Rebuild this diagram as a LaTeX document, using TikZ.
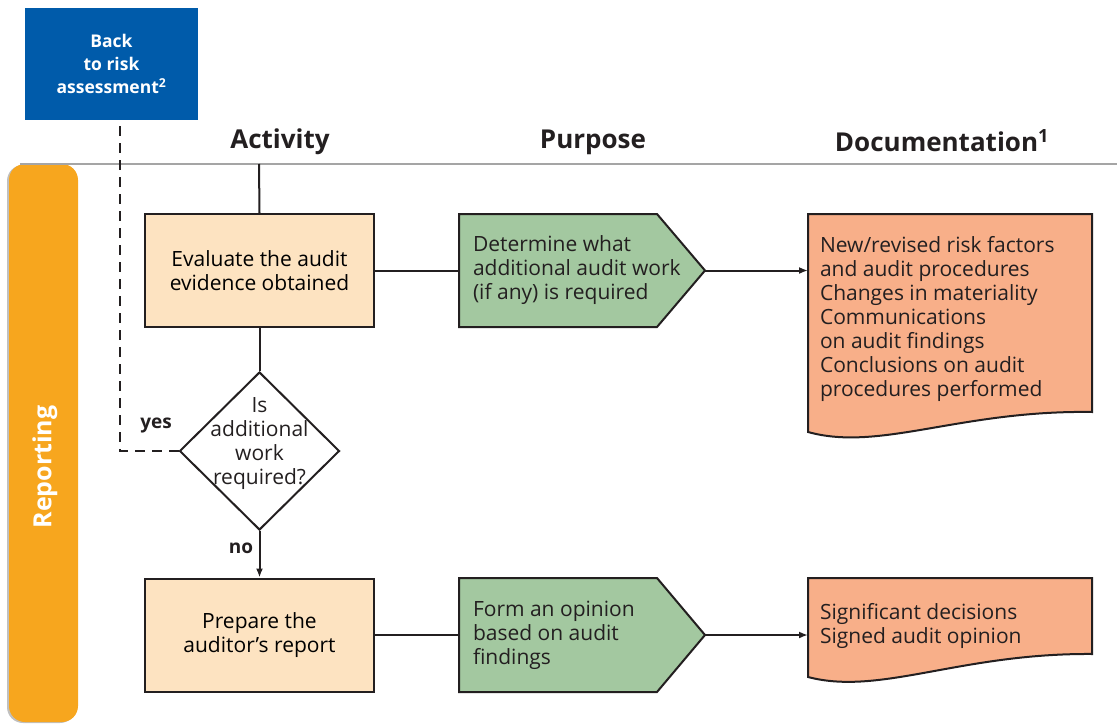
\documentclass[tikz,border=0pt]{standalone}
\usepackage{fontspec}
\setmainfont{Open Sans}
\usetikzlibrary{shapes.geometric,arrows.meta,positioning}
\definecolor{ink}{RGB}{35,31,32}
\definecolor{riskblue}{RGB}{0,91,170}
\definecolor{barorange}{RGB}{247,166,30}
\definecolor{peach}{RGB}{253,227,193}
\definecolor{sage}{RGB}{163,200,160}
\definecolor{salmon}{RGB}{248,175,137}
\definecolor{rulegray}{RGB}{165,165,165}
\newcommand{\bodyfont}{\fontsize{21}{24}\selectfont}
\tikzset{
  actbox/.style={draw=ink, fill=peach, minimum width=229pt, minimum height=113pt, align=center, font=\bodyfont},
  decision/.style={draw=ink, diamond, minimum width=160pt, minimum height=158pt, inner sep=0pt},
  plain/.style={align=left, inner sep=0pt, font=\bodyfont, text=ink},
  heading/.style={font=\bfseries\fontsize{26}{26}\selectfont, text=ink},
  tag/.style={font=\bfseries\fontsize{19}{19}\selectfont, text=ink}
}
\begin{document}
\begin{tikzpicture}[x=1pt, y=-1pt, line width=2pt, draw=ink, >={Latex[length=9pt,width=7pt]}]
    \useasboundingbox (0,0) rectangle (1117,725);

    % lane and headings
    \fill [rulegray!70, rounded corners=16pt] (7,165) rectangle (76,723);
    \fill [barorange, rounded corners=16pt] (9,164) rectangle (78,722);
    \draw [rulegray, line width=1.4pt] (20,164) -- (1117,164);
    \node [white, rotate=90, font=\bfseries\fontsize{25}{25}\selectfont] (lane) at (45,467) {Reporting};
    \node [heading] (hact) at (280,142) {Activity};
    \node [heading] (hpur) at (593,142) {Purpose};
    \node [heading] (hdoc) at (942,141) {Documentation\textsuperscript{1}};
    \coordinate (lanetop) at (259,164);

    % back box
    \node [fill=riskblue, text=white, minimum width=173pt, minimum height=112pt, align=center,
           font=\bfseries\fontsize{17.5}{23}\selectfont] (back) at (111.5,64) {Back\\to risk\\assessment\textsuperscript{2}};

    % activity column
    \node [actbox] (eval) at (259.5,270.5) {Evaluate the audit\\evidence obtained};
    \node [decision] (query) at (259.5,451) {};
    \node [plain, align=center] (qtext) at (259.5,444) {Is\\additional\\work\\required?};
    \node [actbox] (prep) at (259.5,635) {Prepare the\\auditor’s report};

    % purpose shapes
    \draw [fill=sage] (459,214) -- (657,214) -- (705,270.5) -- (657,327) -- (459,327) -- cycle;
    \draw [fill=sage] (459,578) -- (657,578) -- (705,635) -- (657,692) -- (459,692) -- cycle;
    \coordinate (detw) at (459,270.5);
    \coordinate (dettip) at (705,270.5);
    \coordinate (formw) at (459,635);
    \coordinate (formtip) at (705,635);
    \node [plain, anchor=west] (det) at (472,270.5) {Determine what\\additional audit work\\(if any) is required};
    \node [plain, anchor=west] (form) at (472,635) {Form an opinion\\based on audit\\findings};

    % documents
    \draw [fill=salmon] (808,214) -- (1092,214) -- (1092,412)
          .. controls (960,410) and (880,452) .. (808,432) -- cycle;
    \draw [fill=salmon] (808,578) -- (1092,578) -- (1092,654)
          .. controls (960,653) and (880,696) .. (808,677) -- cycle;
    \coordinate (newriskw) at (808,270.5);
    \coordinate (signedw) at (808,635);
    \node [plain, anchor=west] (newrisk) at (819,318.5) {New/revised risk factors\\and audit procedures\\Changes in materiality\\Communications\\on audit findings\\Conclusions on audit\\procedures performed};
    \node [plain, anchor=west] (signed) at (819,626) {Significant decisions\\Signed audit opinion};

    % connectors
    \draw (lanetop) -- (eval.north);
    \draw (eval.south) -- (query.north);
    \draw [->] (query.south) -- (prep.north) node [tag, pos=0.38, left=2pt] {no};
    \draw [dash pattern=on 10pt off 7pt] (query.west) -| ([xshift=8.5pt]back.south);
    \node [tag] (yes) at (156,425) {yes};
    \draw (eval.east) -- (detw);
    \draw [->] (dettip) -- (newriskw);
    \draw (prep.east) -- (formw);
    \draw [->] (formtip) -- (signedw);
\end{tikzpicture}
\end{document}
